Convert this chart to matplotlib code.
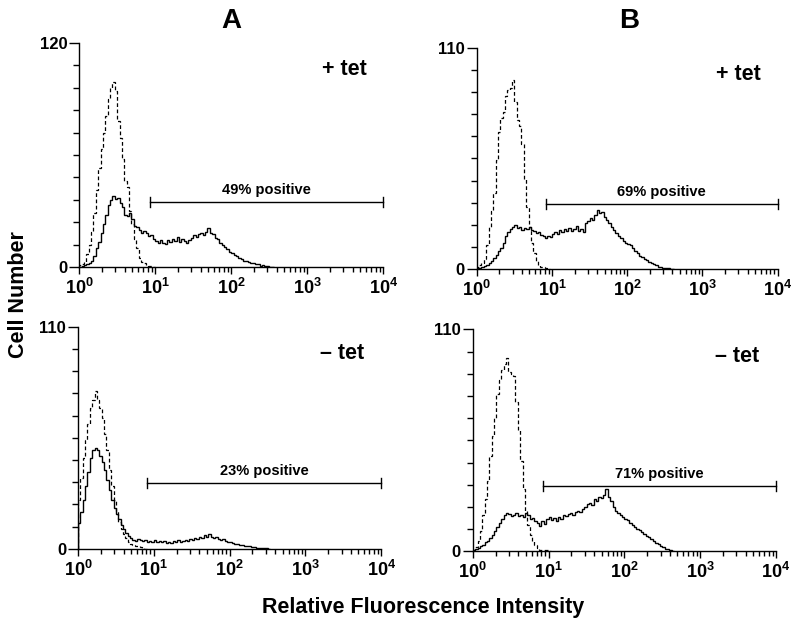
import matplotlib
matplotlib.use('Agg')
import matplotlib.pyplot as plt
import numpy as np

plt.rcParams['font.family'] = ['Liberation Sans', 'DejaVu Sans']
plt.rcParams['font.weight'] = 'bold'
plt.rcParams['mathtext.fontset'] = 'custom'
plt.rcParams['mathtext.rm'] = 'Liberation Sans:bold'
plt.rcParams['mathtext.bf'] = 'Liberation Sans:bold'
plt.rcParams['mathtext.it'] = 'Liberation Sans:bold'

# histogram channels, 32 per decade starting at 10^0
CHANNELS_PER_DECADE = 32

# column A, + tet
a_plus_control = [1, 1.5, 3, 7, 12, 19, 29, 41, 53, 63, 72, 81, 90, 96, 99, 94,
                  78, 69, 58, 46, 43, 30, 23, 15, 10, 5, 3, 2, 1, 0.5, 0.5, 0]
a_plus_sample = [0.3, 0.5, 1, 1.5, 2, 3.5, 6, 10, 13.5, 18, 23, 28, 33, 36, 38, 36.5,
                 37, 34.5, 32, 28, 27.5, 29, 26, 22, 21.5, 20, 18.5, 19.5, 18, 16.5, 17, 15,
                 14, 13, 14.5, 13, 12.5, 14.5, 13.5, 15, 14, 16, 13.5, 15, 14, 13, 14.5, 15.5,
                 17, 16, 17.5, 18, 17, 19, 21, 18, 17.5, 15.5, 15, 13, 12, 10.5, 9.5, 8,
                 7.5, 6.5, 6, 5, 4.5, 3.5, 3.5, 2.5, 2, 2, 1.5, 1.5, 0.8, 1, 0.5, 0.4,
                 0.3, 0]

# column B, + tet
b_plus_control = [1, 2, 3, 5, 12, 21, 29, 38, 54, 68, 75, 78, 86, 89, 90, 94,
                  83, 74, 71, 62, 45, 31, 21, 13, 8, 4, 2, 1.2, 0.8, 0.3, 0]
b_plus_sample = [0.3, 0.5, 1, 1.5, 2, 3, 4, 5.5, 7, 9, 10.5, 13, 16.5, 18.5, 20, 21,
                 22, 20.5, 21, 19.5, 20.5, 20, 21, 19.5, 19, 18, 18.5, 17, 16.5, 15.5, 16.5, 16,
                 17.5, 18.5, 17.5, 19.5, 18.5, 20, 19, 20.5, 19, 20, 21.5, 19, 20, 18.5, 23, 24,
                 25.5, 24.5, 27, 29.5, 28, 28.5, 26, 24.5, 23, 21, 19.5, 18, 16.5, 15.5, 14, 13,
                 12.5, 12, 10.5, 9, 8, 6.5, 6, 5, 4.5, 3.5, 3, 2.5, 2, 1.2, 1, 0.5,
                 0.3, 0.3, 0.2, 0]

# column A, - tet
a_minus_control = [24, 35, 45, 54, 62, 70, 74, 78, 74, 70, 65, 57, 49, 39, 31, 24,
                   18.5, 13.5, 10, 7.5, 5.5, 3.5, 2.5, 2, 1.5, 1.2, 1, 0.5, 0]
a_minus_sample = [13, 18, 24, 31, 38, 45, 49, 50, 49, 46, 43, 39, 34, 29, 24, 20,
                  17, 14.5, 12, 10, 8, 6.5, 5.5, 4.5, 4, 5, 4.5, 4, 4.5, 3.5, 4, 3.5,
                  4.5, 3.5, 4, 3.5, 4, 3, 3.5, 3, 4, 3.5, 4.5, 3.5, 4, 4.5, 4, 5,
                  4.5, 5.5, 5, 6, 5.5, 7, 6, 7.5, 6, 5.5, 6, 5, 4.5, 5, 4, 3.5,
                  3.5, 3, 2.5, 2.5, 2, 2, 1.5, 1.5, 1.2, 1, 1, 0.6, 0.5, 0.4, 0.3, 0.2,
                  0]

# column B, - tet
b_minus_control = [0.5, 2, 5, 10, 18, 26, 35, 47, 57, 66, 78, 85, 90, 93, 96, 89,
                   88, 87, 74, 60, 45, 31, 20, 13, 8, 5, 3, 1.5, 0.8, 0.5, 0.5, 0.5, 0]
b_minus_sample = [0.5, 1, 1.5, 2.5, 3, 4.5, 5, 6.5, 8, 10, 12, 14, 16, 18, 19, 18.5,
                  17.5, 18, 19, 17.5, 18, 17, 19, 18, 16, 16.5, 15, 14, 12.5, 15, 13.5, 16,
                  17, 15.5, 16.5, 15, 17, 16, 18, 17.5, 18.5, 19, 18, 19.5, 20, 19.5, 21, 22,
                  23.5, 24, 23, 26, 25, 27, 26.5, 28, 31, 27, 25, 22, 20, 19, 18, 17,
                  16, 15.5, 14, 13, 12, 11, 10.5, 9.5, 8.5, 7.5, 7, 6, 5, 4, 3.5, 2.5,
                  2, 1.2, 1, 0.5, 0]

y_max = [120, 110, 110, 110]
tet_labels = ['+ tet', '+ tet', '\u2013 tet', '\u2013 tet']
gate_text = ['49% positive', '69% positive', '23% positive', '71% positive']
gate_start = [8.6, 8.2, 8.2, 8.5]
gate_level = [34.8, 32.4, 32.6, 32.2]

controls = [a_plus_control, b_plus_control, a_minus_control, b_minus_control]
samples = [a_plus_sample, b_plus_sample, a_minus_sample, b_minus_sample]

# axes rectangles in figure fraction
rects = [[0.099, 0.576, 0.380, 0.356],
         [0.596, 0.573, 0.376, 0.351],
         [0.0975, 0.129, 0.379, 0.352],
         [0.591, 0.125, 0.379, 0.352]]


def edges(n):
    return 10.0 ** (np.arange(n + 1) / CHANNELS_PER_DECADE)


fig = plt.figure(figsize=(8, 6.3), dpi=100)
for i in range(4):
    ax = fig.add_axes(rects[i])
    ctrl = controls[i]
    smp = samples[i]
    ax.stairs(ctrl, edges(len(ctrl)), color='black', lw=0.9, linestyle=(0, (3, 2)))
    ax.stairs(smp, edges(len(smp)), color='black', lw=1.0)
    ax.set_xscale('log')
    ax.set_xlim(1, 1e4)
    ax.set_ylim(0, y_max[i])
    for s in ['top', 'right']:
        ax.spines[s].set_visible(False)
    for s in ['left', 'bottom']:
        ax.spines[s].set_linewidth(1.0)

    # y ticks: labelled at 0 and max, plain in between
    ax.set_yticks([0, y_max[i]])
    ax.set_yticklabels(['0', str(y_max[i])])
    ax.set_yticks(np.linspace(0, y_max[i], 11)[1:-1], minor=True)
    ax.tick_params(axis='y', which='major', direction='out', length=7, width=1.0,
                   pad=1.5, labelsize=12)
    ax.tick_params(axis='y', which='minor', direction='out', length=4, width=1.0)

    # x ticks
    ax.set_xticks([1, 10, 100, 1000, 10000])
    ax.set_xticklabels([r'$\mathbf{10^{%d}}$' % k for k in range(5)])
    minors = [m * 10 ** k for k in range(4) for m in range(2, 10)]
    ax.set_xticks(minors, minor=True)
    ax.xaxis.set_minor_formatter(plt.NullFormatter())
    ax.tick_params(axis='x', which='major', direction='out', length=5, width=1.0,
                   pad=3, labelsize=13)
    ax.tick_params(axis='x', which='minor', direction='out', length=3.5, width=1.0)

    # gate bar
    g0 = gate_start[i]
    gy = gate_level[i]
    cap = y_max[i] * 0.022
    ax.plot([g0, 1e4], [gy, gy], color='black', lw=1.0, clip_on=False)
    ax.plot([g0, g0], [gy - cap, gy + cap], color='black', lw=1.0, clip_on=False)
    ax.plot([1e4, 1e4], [gy - cap, gy + cap], color='black', lw=1.0, clip_on=False)
    ax.annotate(gate_text[i], (np.sqrt(g0 * 1e4), gy), textcoords='offset points',
                xytext=(0, 6), ha='center', va='baseline', fontsize=10.5, fontweight='bold')

    ax.text(0.945, 0.88, tet_labels[i], transform=ax.transAxes, ha='right', va='center',
            fontsize=15.5, fontweight='bold')

fig.text(0.289, 0.966, 'A', ha='center', va='center', fontsize=20, fontweight='bold')
fig.text(0.786, 0.966, 'B', ha='center', va='center', fontsize=20, fontweight='bold')
fig.text(0.023, 0.532, 'Cell Number', rotation=90, ha='center', va='center',
         fontsize=15.5, fontweight='bold')
fig.text(0.529, 0.036, 'Relative Fluorescence Intensity', ha='center', va='center',
         fontsize=15.5, fontweight='bold')

fig.savefig('out.png', dpi=100)
